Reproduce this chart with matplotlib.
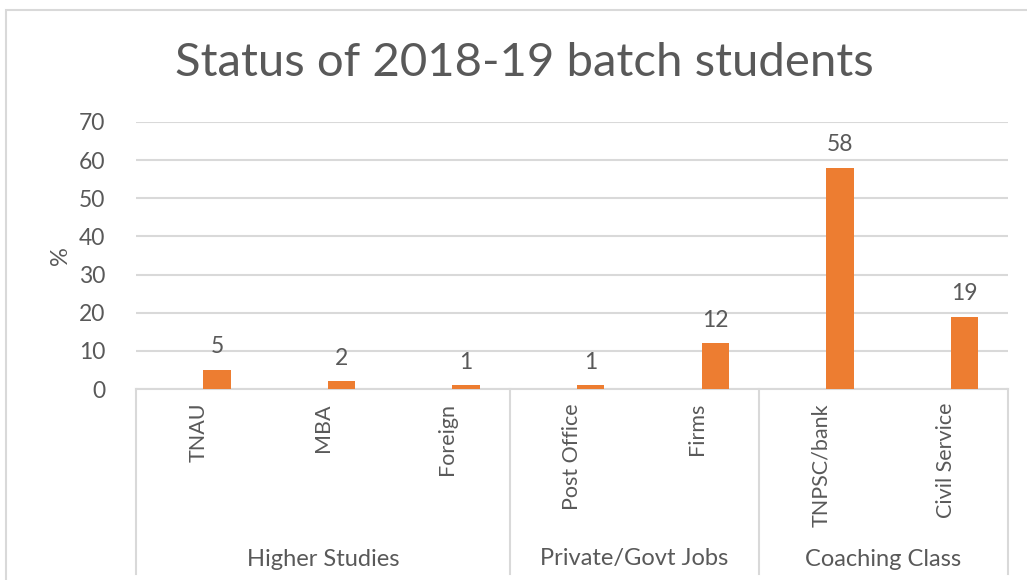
import matplotlib
matplotlib.use("Agg")
import matplotlib.pyplot as plt
from matplotlib.patches import Rectangle
import matplotlib.transforms as mtransforms

categories = ["TNAU", "MBA", "Foreign", "Post Office", "Firms", "TNPSC/bank", "Civil Service"]
values = [5, 2, 1, 1, 12, 58, 19]
groups = ["Higher Studies", "Private/Govt Jobs", "Coaching Class"]
group_sizes = [3, 2, 2]
yticks = [0, 10, 20, 30, 40, 50, 60, 70]
title = "Status of 2018-19 batch students"

TEXT = "#595959"
GRID = "#D9D9D9"
BAR = "#ED7D31"
FONT = ["Lato", "DejaVu Sans"]
plt.rcParams["font.family"] = FONT

W, H = 1027, 580
fig = plt.figure(figsize=(W / 100, H / 100), dpi=100)
fig.patch.set_facecolor("white")

# outer chart border
fig.add_artist(Rectangle((6 / W, -0.05), 1.2, 1 - 10 / H + 0.05, transform=fig.transFigure,
                         fill=False, edgecolor=GRID, linewidth=1.5))

left, right, top, bottom = 136, 1008, 122, 389
ax = fig.add_axes([left / W, 1 - bottom / H, (right - left) / W, (bottom - top) / H])
n = len(categories)
x = list(range(n))
ax.bar([i + 0.15 for i in x], values, width=0.22, color=BAR, zorder=3)
ax.set_xlim(-0.5, n - 0.5)
ax.set_ylim(0, 70)
ax.set_yticks(yticks)
ax.set_yticklabels([str(t) for t in yticks], fontsize=16.5, color=TEXT)
ax.tick_params(axis="y", length=0, pad=22)
ax.set_xticks([])
for s in ["top", "right", "left"]:
    ax.spines[s].set_visible(False)
ax.spines["bottom"].set_color(GRID)
ax.spines["bottom"].set_linewidth(1.5)
ax.grid(axis="y", color=GRID, linewidth=1.5, zorder=0)
ax.set_axisbelow(True)

for i, v in enumerate(values):
    ax.annotate(str(v), (i + 0.15, v), xytext=(0, 9), textcoords="offset points",
                ha="center", va="bottom", fontsize=16.5, color=TEXT)

ax.text(60 / W, 0.5, "%", transform=mtransforms.blended_transform_factory(fig.transFigure, ax.transAxes),
        rotation=90, ha="center", va="center", fontsize=17, color=TEXT)

trans = mtransforms.blended_transform_factory(ax.transData, fig.transFigure)
# category labels
for i, c in enumerate(categories):
    ax.text(i, 1 - 403 / H, c, transform=trans, rotation=90, ha="center", va="top",
            fontsize=15.5, color=TEXT)

# separators
bounds = [-0.5]
acc = -0.5
for g in group_sizes:
    acc += g
    bounds.append(acc)
for b in bounds:
    ax.plot([b, b], [1 - 389 / H, 1 - 574 / H], transform=trans, color=GRID,
            linewidth=1.5, clip_on=False)

# group labels
start = 0
for g, sz in zip(groups, group_sizes):
    center = start + (sz - 1) / 2
    ax.text(center, 1 - 559 / H, g, transform=trans, ha="center", va="center",
            fontsize=17, color=TEXT)
    start += sz

fig.text(524 / W, 1 - 63 / H, title, ha="center", va="center", fontsize=34,
         color=TEXT, fontweight="normal")

fig.savefig("out.png", dpi=100)
